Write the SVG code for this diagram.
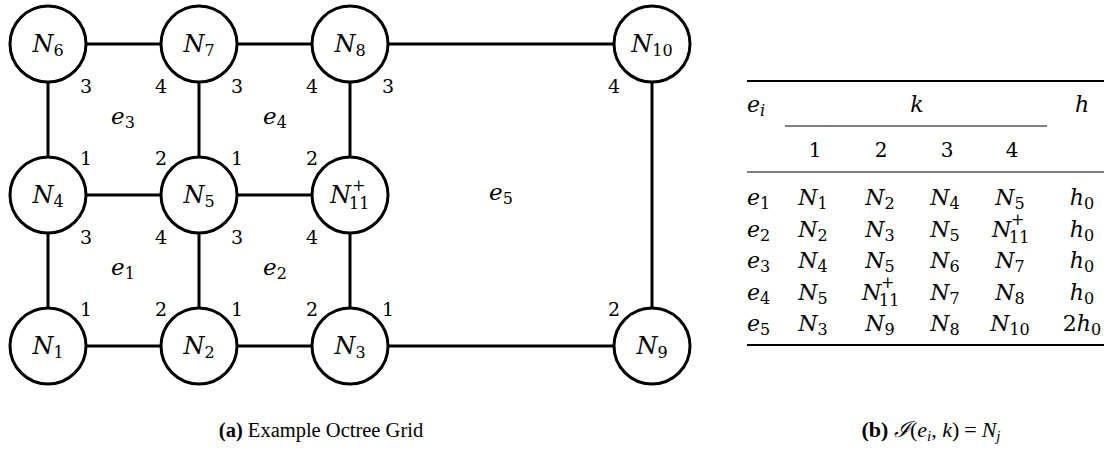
<svg xmlns="http://www.w3.org/2000/svg" width="1107" height="456" viewBox="0 0 1107 456">
<style>
.edge{stroke:#000;stroke-width:3;fill:none;stroke-linecap:butt}
.node circle{fill:#fff;stroke:#000;stroke-width:3}
.m{font-family:"DejaVu Serif",serif;font-style:italic;font-size:24px;fill:#000}
.s{font-family:"DejaVu Serif",serif;font-style:normal;font-size:16px}
.si{font-family:"DejaVu Serif",serif;font-style:italic;font-size:16px}
.num{font-family:"DejaVu Serif",serif;font-size:19px;text-anchor:middle;fill:#000}
.el{font-family:"DejaVu Serif",serif;font-style:italic;font-size:23px;text-anchor:middle;fill:#000}
.t{font-family:"DejaVu Serif",serif;font-style:italic;font-size:22px;text-anchor:middle;fill:#000}
.tl{font-family:"DejaVu Serif",serif;font-style:italic;font-size:22px;fill:#000}
.td{font-family:"DejaVu Serif",serif;font-size:20px;text-anchor:middle;fill:#000}
.rule{stroke:#000;fill:none}
.cap{font-family:"Liberation Serif",serif;font-size:20.5px;fill:#000}
</style>

<g id="connectors">
<line class="edge" x1="86" y1="44" x2="161" y2="44"/>
<line class="edge" x1="237" y1="44" x2="312" y2="44"/>
<line class="edge" x1="388" y1="44" x2="614" y2="44"/>
<line class="edge" x1="86" y1="195" x2="161" y2="195"/>
<line class="edge" x1="237" y1="195" x2="312" y2="195"/>
<line class="edge" x1="86" y1="346" x2="161" y2="346"/>
<line class="edge" x1="237" y1="346" x2="312" y2="346"/>
<line class="edge" x1="388" y1="346" x2="614" y2="346"/>
<line class="edge" x1="48" y1="82" x2="48" y2="157"/>
<line class="edge" x1="48" y1="233" x2="48" y2="308"/>
<line class="edge" x1="199" y1="82" x2="199" y2="157"/>
<line class="edge" x1="199" y1="233" x2="199" y2="308"/>
<line class="edge" x1="350" y1="82" x2="350" y2="157"/>
<line class="edge" x1="350" y1="233" x2="350" y2="308"/>
<line class="edge" x1="652" y1="82" x2="652" y2="308"/>
</g>

<g id="N6" class="node"><circle cx="48" cy="44" r="38"/><text class="m" x="48" y="52" text-anchor="middle">N<tspan class="s" dy="4">6</tspan></text></g>
<g id="N7" class="node"><circle cx="199" cy="44" r="38"/><text class="m" x="199" y="52" text-anchor="middle">N<tspan class="s" dy="4">7</tspan></text></g>
<g id="N8" class="node"><circle cx="350" cy="44" r="38"/><text class="m" x="350" y="52" text-anchor="middle">N<tspan class="s" dy="4">8</tspan></text></g>
<g id="N10" class="node"><circle cx="652" cy="44" r="38"/><text class="m" x="652" y="52" text-anchor="middle">N<tspan class="s" dy="4">10</tspan></text></g>
<g id="N4" class="node"><circle cx="48" cy="195" r="38"/><text class="m" x="48" y="203" text-anchor="middle">N<tspan class="s" dy="4">4</tspan></text></g>
<g id="N5" class="node"><circle cx="199" cy="195" r="38"/><text class="m" x="199" y="203" text-anchor="middle">N<tspan class="s" dy="4">5</tspan></text></g>
<g id="N11" class="node"><circle cx="350" cy="195" r="38"/><text class="m" x="351" y="203" text-anchor="end">N</text><text class="s" x="352" y="191">+</text><text class="s" x="349" y="209">11</text></g>
<g id="N1" class="node"><circle cx="48" cy="346" r="38"/><text class="m" x="48" y="354" text-anchor="middle">N<tspan class="s" dy="4">1</tspan></text></g>
<g id="N2" class="node"><circle cx="199" cy="346" r="38"/><text class="m" x="199" y="354" text-anchor="middle">N<tspan class="s" dy="4">2</tspan></text></g>
<g id="N3" class="node"><circle cx="350" cy="346" r="38"/><text class="m" x="350" y="354" text-anchor="middle">N<tspan class="s" dy="4">3</tspan></text></g>
<g id="N9" class="node"><circle cx="652" cy="346" r="38"/><text class="m" x="652" y="354" text-anchor="middle">N<tspan class="s" dy="4">9</tspan></text></g>

<g id="corner-labels">
<text class="num" x="86" y="93">3</text><text class="num" x="161" y="93">4</text>
<text class="num" x="237" y="93">3</text><text class="num" x="312" y="93">4</text>
<text class="num" x="388" y="93">3</text><text class="num" x="614" y="93">4</text>
<text class="num" x="86" y="165">1</text><text class="num" x="161" y="165">2</text>
<text class="num" x="237" y="165">1</text><text class="num" x="312" y="165">2</text>
<text class="num" x="86" y="244">3</text><text class="num" x="161" y="244">4</text>
<text class="num" x="237" y="244">3</text><text class="num" x="312" y="244">4</text>
<text class="num" x="86" y="316">1</text><text class="num" x="161" y="316">2</text>
<text class="num" x="237" y="316">1</text><text class="num" x="312" y="316">2</text>
<text class="num" x="388" y="316">1</text><text class="num" x="614" y="316">2</text>
</g>

<g id="element-labels">
<text class="el" x="123" y="124">e<tspan class="s" dy="4">3</tspan></text>
<text class="el" x="275" y="124">e<tspan class="s" dy="4">4</tspan></text>
<text class="el" x="123" y="275">e<tspan class="s" dy="4">1</tspan></text>
<text class="el" x="275" y="275">e<tspan class="s" dy="4">2</tspan></text>
<text class="el" x="501" y="200">e<tspan class="s" dy="4">5</tspan></text>
</g>

<g id="table">
<line class="rule" x1="747" y1="81" x2="1104" y2="81" stroke-width="1.8"/>
<text class="tl" x="747" y="112">e<tspan class="si" dy="4">i</tspan></text>
<text class="t" x="917" y="112">k</text>
<text class="t" x="1082" y="112">h</text>
<line class="rule" x1="785" y1="126" x2="1047" y2="126" stroke-width="1"/>
<text class="td" x="815" y="157">1</text><text class="td" x="881" y="157">2</text><text class="td" x="947" y="157">3</text><text class="td" x="1012" y="157">4</text>
<line class="rule" x1="747" y1="172" x2="1104" y2="172" stroke-width="1.2"/>

<text class="tl" x="747" y="205">e<tspan class="s" dy="4">1</tspan></text>
<text class="t" x="813" y="205">N<tspan class="s" dy="4">1</tspan></text>
<text class="t" x="880" y="205">N<tspan class="s" dy="4">2</tspan></text>
<text class="t" x="945" y="205">N<tspan class="s" dy="4">4</tspan></text>
<text class="t" x="1010" y="205">N<tspan class="s" dy="4">5</tspan></text>
<text class="t" x="1082" y="205">h<tspan class="s" dy="4">0</tspan></text>

<text class="tl" x="747" y="236.5">e<tspan class="s" dy="4">2</tspan></text>
<text class="t" x="813" y="236.5">N<tspan class="s" dy="4">2</tspan></text>
<text class="t" x="880" y="236.5">N<tspan class="s" dy="4">3</tspan></text>
<text class="t" x="945" y="236.5">N<tspan class="s" dy="4">5</tspan></text>
<text class="tl" x="992" y="236.5">N</text><text class="s" x="1011" y="225">+</text><text class="s" x="1009" y="242.5">11</text>
<text class="t" x="1082" y="236.5">h<tspan class="s" dy="4">0</tspan></text>

<text class="tl" x="747" y="268">e<tspan class="s" dy="4">3</tspan></text>
<text class="t" x="813" y="268">N<tspan class="s" dy="4">4</tspan></text>
<text class="t" x="880" y="268">N<tspan class="s" dy="4">5</tspan></text>
<text class="t" x="945" y="268">N<tspan class="s" dy="4">6</tspan></text>
<text class="t" x="1010" y="268">N<tspan class="s" dy="4">7</tspan></text>
<text class="t" x="1082" y="268">h<tspan class="s" dy="4">0</tspan></text>

<text class="tl" x="747" y="299.5">e<tspan class="s" dy="4">4</tspan></text>
<text class="t" x="813" y="299.5">N<tspan class="s" dy="4">5</tspan></text>
<text class="tl" x="862" y="299.5">N</text><text class="s" x="881" y="288">+</text><text class="s" x="879" y="305.5">11</text>
<text class="t" x="945" y="299.5">N<tspan class="s" dy="4">7</tspan></text>
<text class="t" x="1010" y="299.5">N<tspan class="s" dy="4">8</tspan></text>
<text class="t" x="1082" y="299.5">h<tspan class="s" dy="4">0</tspan></text>

<text class="tl" x="747" y="331">e<tspan class="s" dy="4">5</tspan></text>
<text class="t" x="813" y="331">N<tspan class="s" dy="4">3</tspan></text>
<text class="t" x="880" y="331">N<tspan class="s" dy="4">9</tspan></text>
<text class="t" x="945" y="331">N<tspan class="s" dy="4">8</tspan></text>
<text class="t" x="1010" y="331">N<tspan class="s" dy="4">10</tspan></text>
<text class="t" x="1082" y="331"><tspan style="font-style:normal">2</tspan>h<tspan class="s" dy="4">0</tspan></text>
<line class="rule" x1="747" y1="345" x2="1104" y2="345" stroke-width="1.8"/>
</g>

<g id="captions">
<text class="cap" x="321" y="437" text-anchor="middle"><tspan font-weight="bold">(a)</tspan> Example Octree Grid</text>
<text class="cap" x="931" y="437" text-anchor="middle" style="font-size:22px"><tspan font-weight="bold">(b)</tspan> <tspan font-style="italic">ℐ</tspan>(<tspan font-style="italic">e</tspan><tspan font-size="15px" font-style="italic" dy="4">i</tspan><tspan dy="-4">, </tspan><tspan font-style="italic">k</tspan>)<tspan dx="5">=</tspan><tspan dx="5" font-style="italic">N</tspan><tspan font-size="15px" font-style="italic" dy="4">j</tspan></text>
</g>
</svg>
